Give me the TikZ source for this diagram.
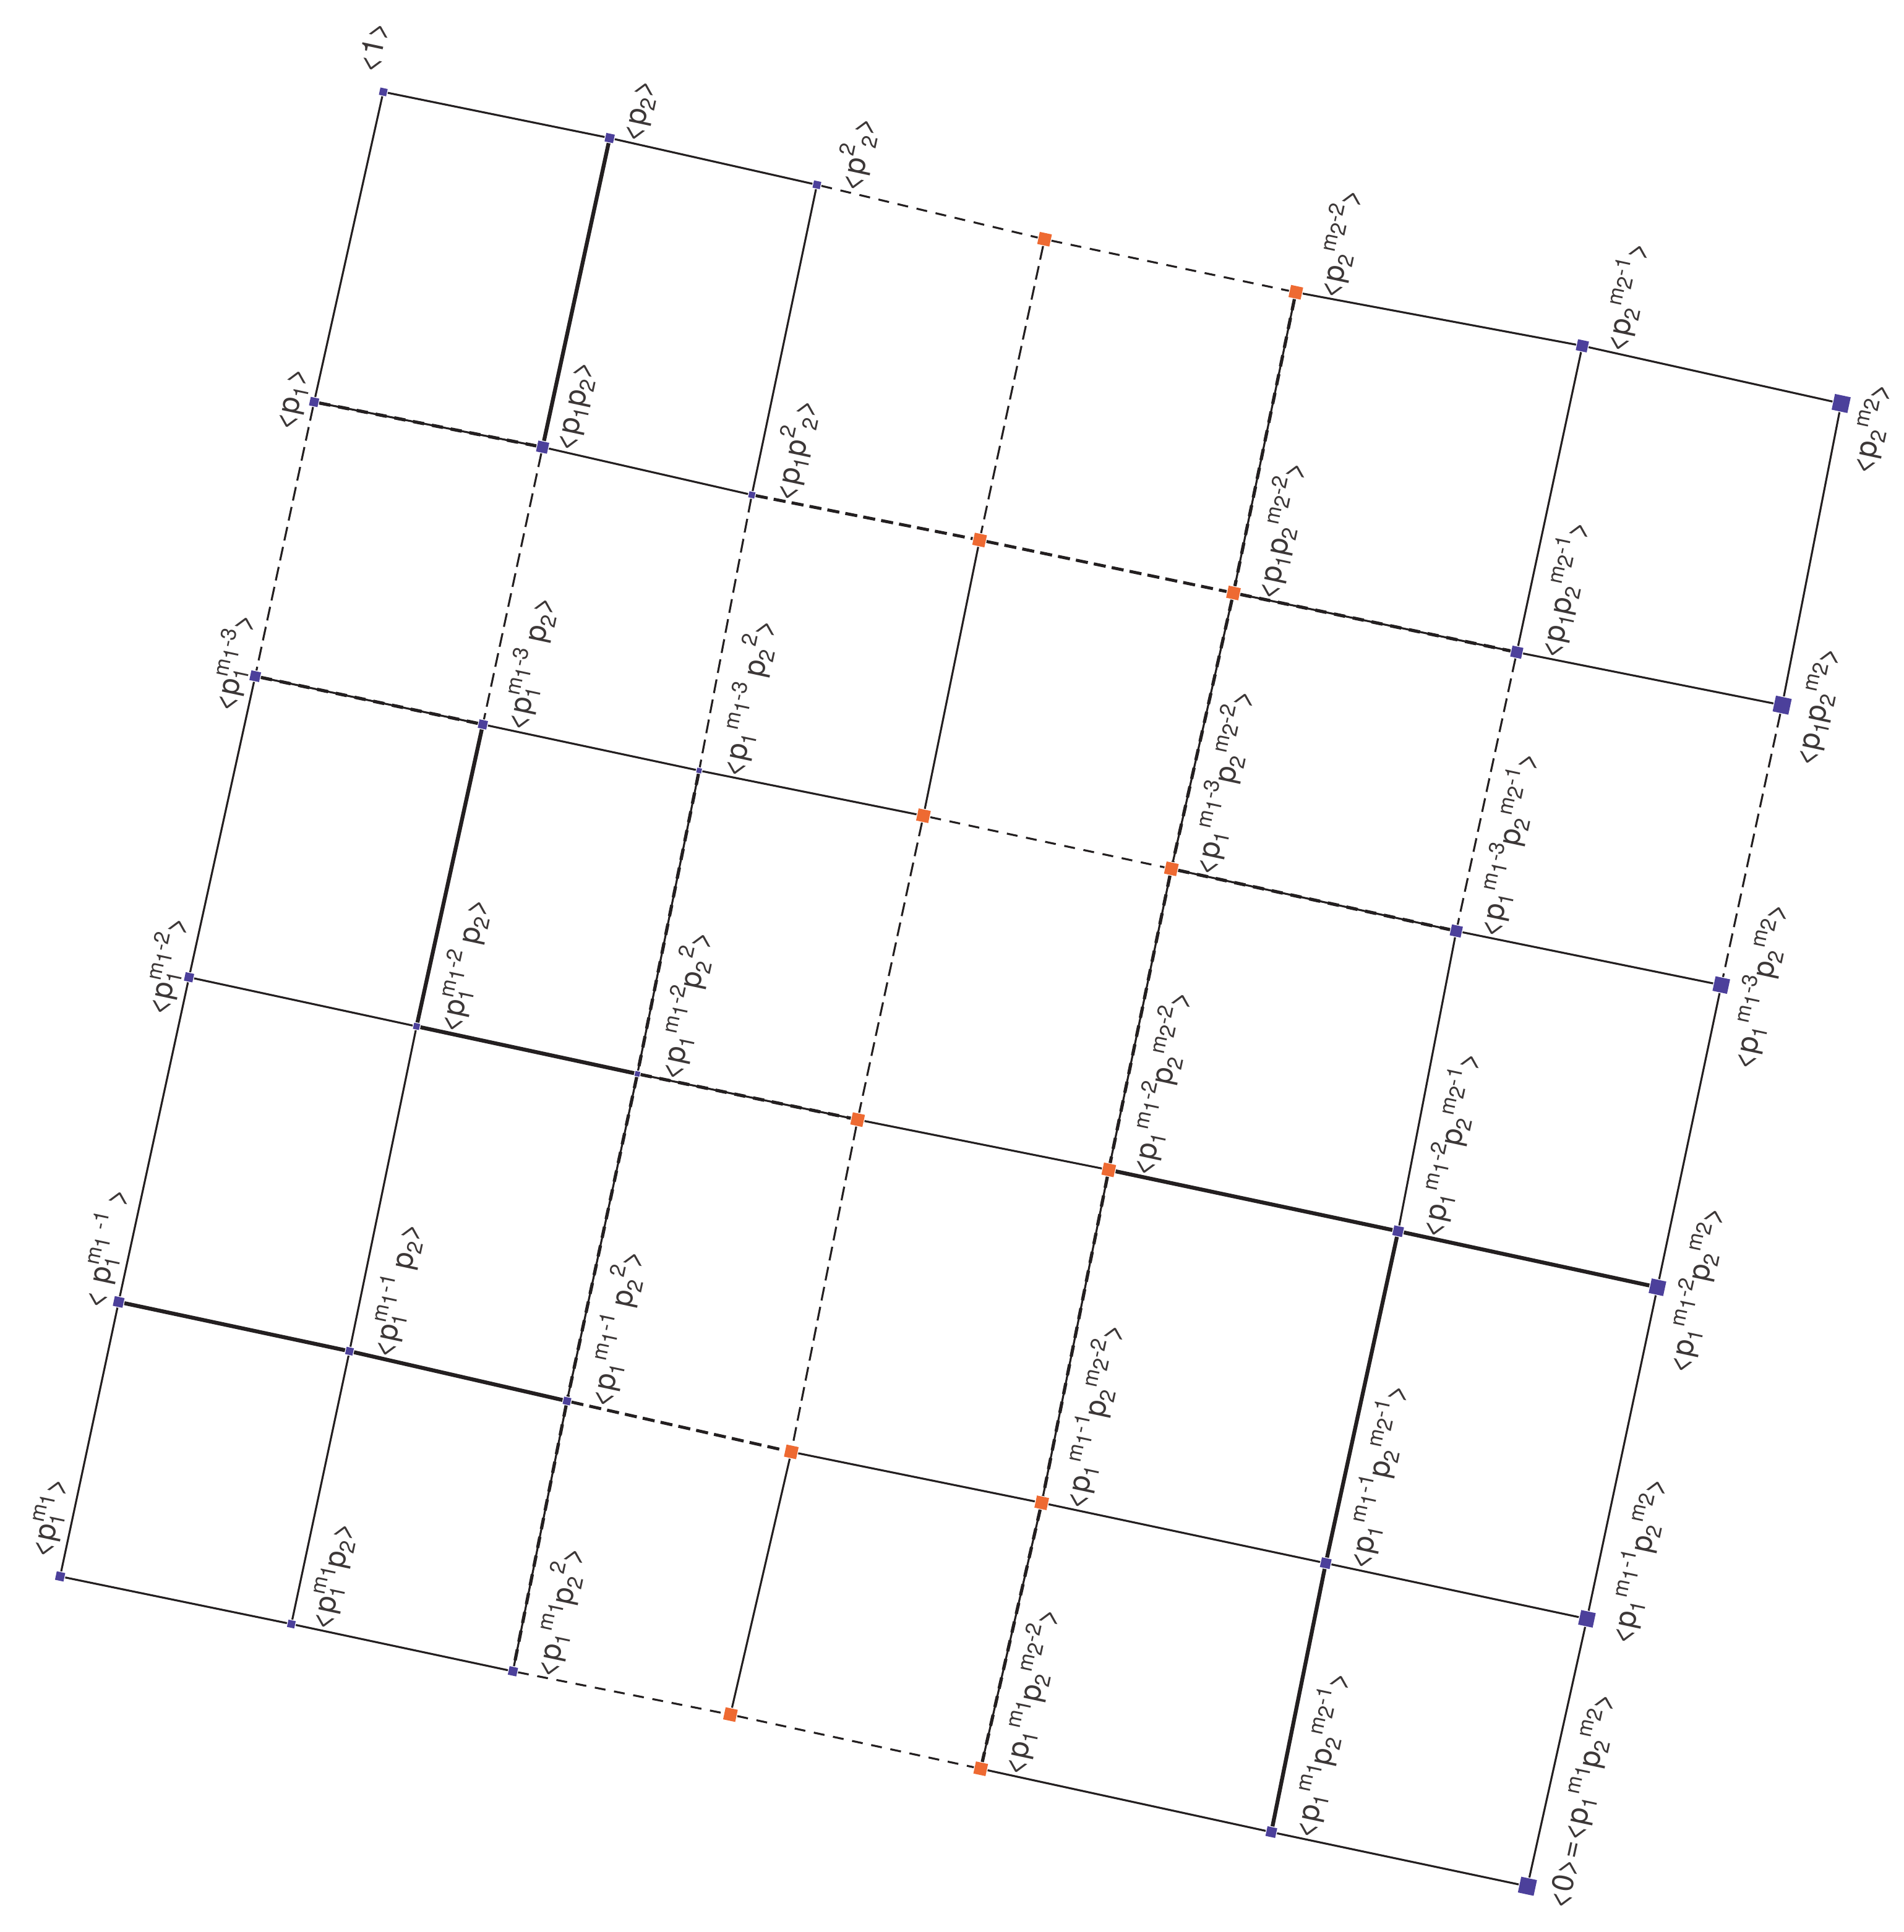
\documentclass[tikz,border=0pt]{standalone}
\usepackage{fontspec}
\setmainfont{TeX Gyre Heros}
\definecolor{vblue}{RGB}{76,64,155}
\definecolor{vorange}{RGB}{238,106,50}
\definecolor{ink}{RGB}{35,31,32}
\definecolor{txt}{RGB}{60,55,55}
% sub- and superscripts in text
\newcommand{\sbx}[1]{\raisebox{-0.22em}{\fontsize{4.9}{5}\selectfont #1}}
\newcommand{\spx}[1]{\raisebox{0.45em}{\fontsize{4.9}{5}\selectfont #1}}
\newcommand{\mlow}[1]{\raisebox{-0.3em}{#1}}
\newcommand{\stk}[2]{\rlap{\sbx{#1}}\spx{#2}}
\tikzset{
  vsq/.style={rectangle, inner sep=0pt, minimum size=#1, fill=vblue, rotate=-12.1},
  vsq/.default=0.7mm,
  osq/.style={rectangle, inner sep=0pt, minimum size=1mm, fill=vorange, rotate=-12.1},
  lbr/.style={rotate=77.9, anchor=north west, inner sep=0pt, text=txt, font=\fontsize{6.9}{7}\selectfont},
  lbl/.style={lbr, anchor=south west},
  ln/.style={draw=ink, line width=0.45pt},
  hv/.style={draw=ink, line width=0.9pt},
  dsh/.style={ln, dash pattern=on 2.5pt off 2pt},
  vdsh/.style={ln, dash pattern=on 3.2pt off 1.5pt},
  bdsh/.style={draw=ink, line width=0.7pt, dash pattern=on 2.8pt off 1.4pt},
  dsl/.style={ln, postaction={draw=ink, line width=0.75pt, dash pattern=on 2.6pt off 1.8pt}},
}
\begin{document}
\begin{tikzpicture}
\useasboundingbox (0,0) rectangle (15.385,-15.62);

% ROW 0
\node[vsq=0.6mm] (a00) at (3.098,-0.743) {};
\node[vsq] (a01) at (4.928,-1.116) {};
\node[vsq=0.6mm] (a02) at (6.603,-1.494) {};
\node[osq] (a03) at (8.443,-1.934) {};
\node[osq] (a04) at (10.474,-2.363) {};
\node[vsq=0.9mm] (a05) at (12.790,-2.796) {};
\node[vsq=1.3mm] (a06) at (14.882,-3.262) {};

% ROW 1
\node[vsq] (a10) at (2.539,-3.250) {};
\node[vsq=0.9mm] (a11) at (4.386,-3.615) {};
\node[vsq=0.5mm] (a12) at (6.077,-4.001) {};
\node[osq] (a13) at (7.918,-4.366) {};
\node[osq] (a14) at (9.970,-4.794) {};
\node[vsq=0.9mm] (a15) at (12.260,-5.273) {};
\node[vsq=1.3mm] (a16) at (14.405,-5.701) {};

% ROW 2
\node[vsq=0.8mm] (a20) at (2.063,-5.467) {};
\node[vsq] (a21) at (3.903,-5.857) {};
\node[vsq=0.4mm] (a22) at (5.651,-6.230) {};
\node[osq] (a23) at (7.464,-6.595) {};
\node[osq] (a24) at (9.468,-7.024) {};
\node[vsq=0.9mm] (a25) at (11.771,-7.527) {};
\node[vsq=1.2mm] (a26) at (13.913,-7.964) {};

% ROW 3
\node[vsq] (a30) at (1.528,-7.901) {};
\node[vsq=0.5mm] (a31) at (3.367,-8.298) {};
\node[vsq=0.4mm] (a32) at (5.152,-8.682) {};
\node[osq] (a33) at (6.932,-9.052) {};
\node[osq] (a34) at (8.962,-9.458) {};
\node[vsq=0.8mm] (a35) at (11.301,-9.954) {};
\node[vsq=1.2mm] (a36) at (13.397,-10.407) {};

% ROW 4
\node[vsq=0.8mm] (a40) at (0.959,-10.526) {};
\node[vsq=0.6mm] (a41) at (2.825,-10.924) {};
\node[vsq=0.6mm] (a42) at (4.583,-11.327) {};
\node[osq] (a43) at (6.396,-11.738) {};
\node[osq] (a44) at (8.420,-12.150) {};
\node[vsq=0.8mm] (a45) at (10.716,-12.638) {};
\node[vsq=1.2mm] (a46) at (12.827,-13.088) {};

% ROW 5
\node[vsq] (a50) at (0.486,-12.745) {};
\node[vsq=0.6mm] (a51) at (2.355,-13.130) {};
\node[vsq] (a52) at (4.146,-13.512) {};
\node[osq] (a53) at (5.904,-13.862) {};
\node[osq] (a54) at (7.927,-14.300) {};
\node[vsq=0.8mm] (a55) at (10.276,-14.812) {};
\node[vsq=1.3mm] (a56) at (12.346,-15.250) {};

% Row lines
\draw[ln] (a00) -- (a01) -- (a02);
\draw[dsh] (a02) -- (a03) -- (a04);
\draw[ln] (a04) -- (a05) -- (a06);
\draw[dsl] (a10) -- (a11);
\draw[ln] (a11) -- (a12);
\draw[bdsh] (a12) -- (a13) -- (a14);
\draw[dsl] (a14) -- (a15);
\draw[ln] (a15) -- (a16);
\draw[dsl] (a20) -- (a21);
\draw[ln] (a21) -- (a22) -- (a23);
\draw[dsh] (a23) -- (a24);
\draw[dsl] (a24) -- (a25);
\draw[ln] (a25) -- (a26);
\draw[ln] (a30) -- (a31);
\draw[hv] (a31) -- (a32);
\draw[dsl] (a32) -- (a33);
\draw[ln] (a33) -- (a34);
\draw[hv] (a34) -- (a35) -- (a36);
\draw[hv] (a40) -- (a41) -- (a42);
\draw[bdsh] (a42) -- (a43);
\draw[ln] (a43) -- (a44) -- (a45) -- (a46);
\draw[ln] (a50) -- (a51) -- (a52);
\draw[dsh] (a52) -- (a53) -- (a54);
\draw[ln] (a54) -- (a55) -- (a56);

% Column lines
\draw[ln] (a00) -- (a10);
\draw[vdsh] (a10) -- (a20);
\draw[ln] (a20) -- (a30) -- (a40) -- (a50);
\draw[hv] (a01) -- (a11);
\draw[vdsh] (a11) -- (a21);
\draw[hv] (a21) -- (a31);
\draw[ln] (a31) -- (a41) -- (a51);
\draw[ln] (a02) -- (a12);
\draw[vdsh] (a12) -- (a22);
\draw[dsl] (a22) -- (a32) -- (a42) -- (a52);
\draw[vdsh] (a03) -- (a13);
\draw[ln] (a13) -- (a23);
\draw[vdsh] (a23) -- (a33) -- (a43);
\draw[ln] (a43) -- (a53);
\draw[dsl] (a04) -- (a14) -- (a24) -- (a34) -- (a44) -- (a54);
\draw[ln] (a05) -- (a15);
\draw[vdsh] (a15) -- (a25);
\draw[ln] (a25) -- (a35);
\draw[hv] (a35) -- (a45) -- (a55);
\draw[ln] (a06) -- (a16);
\draw[vdsh] (a16) -- (a26);
\draw[ln] (a26) -- (a36) -- (a46) -- (a56);

% Labels, left column
\node[lbl] (t00) at ([shift={(-0.024,0.128)}]a00) {<1>};
\node[lbl] (t10) at ([shift={(-0.108,-0.263)}]a10) {<p\sbx{1}>};
\node[lbl] (t20) at ([shift={(-0.120,-0.322)}]a20) {<p\stk{1}{m\mlow{1}-3}>};
\node[lbl] (t30) at ([shift={(-0.124,-0.342)}]a30) {<p\stk{1}{m\mlow{1}-2}>};
\node[lbl] (t40) at ([shift={(-0.070,-0.087)}]a40) {< p\stk{1}{m\mlow{1} -1} >};
\node[lbl] (t50) at ([shift={(-0.026,0.118)}]a50) {<p\stk{1}{m\mlow{1}}>};

% Labels, second column
\node[lbr] (t01) at ([shift={(0.108,-0.023)}]a01) {<p\sbx{2}>};
\node[lbr] (t11) at ([shift={(0.108,-0.023)}]a11) {<p\sbx{1}p\sbx{2}>};
\node[lbr] (t21) at ([shift={(0.108,-0.023)}]a21) {<p\stk{1}{m\mlow{1}-3} p\sbx{2}>};
\node[lbr] (t31) at ([shift={(0.108,-0.023)}]a31) {<p\stk{1}{m\mlow{1}-2} p\sbx{2}>};
\node[lbr] (t41) at ([shift={(0.108,-0.023)}]a41) {<p\stk{1}{m\mlow{1}-1} p\sbx{2}>};
\node[lbr] (t51) at ([shift={(0.108,-0.023)}]a51) {<p\stk{1}{m\mlow{1}}p\sbx{2}>};

% Labels, third column
\node[lbr] (t02) at ([shift={(0.108,-0.023)}]a02) {<p\spx{2}\sbx{2}>};
\node[lbr] (t12) at ([shift={(0.108,-0.023)}]a12) {<p\sbx{1}p\spx{2}\sbx{2}>};
\node[lbr] (t22) at ([shift={(0.108,-0.023)}]a22) {<p\sbx{1}\spx{m\mlow{1}-3} p\sbx{2}\spx{2}>};
\node[lbr] (t32) at ([shift={(0.108,-0.023)}]a32) {<p\sbx{1}\spx{m\mlow{1}-2}p\sbx{2}\spx{2}>};
\node[lbr] (t42) at ([shift={(0.108,-0.023)}]a42) {<p\sbx{1}\spx{m\mlow{1}-1} p\sbx{2}\spx{2}>};
\node[lbr] (t52) at ([shift={(0.108,-0.023)}]a52) {<p\sbx{1}\spx{m\mlow{1}}p\sbx{2}\spx{2}>};

% Labels, m2-2 column
\node[lbr] (t04) at ([shift={(0.108,-0.023)}]a04) {<p\sbx{2}\spx{m\mlow{2}-2}>};
\node[lbr] (t14) at ([shift={(0.108,-0.023)}]a14) {<p\sbx{1}p\sbx{2}\spx{m\mlow{2}-2}>};
\node[lbr] (t24) at ([shift={(0.108,-0.023)}]a24) {<p\sbx{1}\spx{m\mlow{1}-3}p\sbx{2}\spx{m\mlow{2}-2}>};
\node[lbr] (t34) at ([shift={(0.108,-0.023)}]a34) {<p\sbx{1}\spx{m\mlow{1}-2}p\sbx{2}\spx{m\mlow{2}-2}>};
\node[lbr] (t44) at ([shift={(0.108,-0.023)}]a44) {<p\sbx{1}\spx{m\mlow{1}-1}p\sbx{2}\spx{m\mlow{2}-2}>};
\node[lbr] (t54) at ([shift={(0.108,-0.023)}]a54) {<p\sbx{1}\spx{m\mlow{1}}p\sbx{2}\spx{m\mlow{2}-2}>};

% Labels, m2-1 column
\node[lbr] (t05) at ([shift={(0.108,-0.023)}]a05) {<p\sbx{2}\spx{m\mlow{2}-1}>};
\node[lbr] (t15) at ([shift={(0.108,-0.023)}]a15) {<p\sbx{1}p\sbx{2}\spx{m\mlow{2}-1}>};
\node[lbr] (t25) at ([shift={(0.108,-0.023)}]a25) {<p\sbx{1}\spx{m\mlow{1}-3}p\sbx{2}\spx{m\mlow{2}-1}>};
\node[lbr] (t35) at ([shift={(0.108,-0.023)}]a35) {<p\sbx{1}\spx{m\mlow{1}-2}p\sbx{2}\spx{m\mlow{2}-1}>};
\node[lbr] (t45) at ([shift={(0.108,-0.023)}]a45) {<p\sbx{1}\spx{m\mlow{1}-1}p\sbx{2}\spx{m\mlow{2}-1}>};
\node[lbr] (t55) at ([shift={(0.108,-0.023)}]a55) {<p\sbx{1}\spx{m\mlow{1}}p\sbx{2}\spx{m\mlow{2}-1}>};

% Labels, right column
\node[lbr] (t06) at ([shift={(0.036,-0.550)}]a06) {<p\sbx{2}\spx{m\mlow{2}}>};
\node[lbr] (t16) at ([shift={(0.052,-0.471)}]a16) {<p\sbx{1}p\sbx{2}\spx{m\mlow{2}}>};
\node[lbr] (t26) at ([shift={(0.013,-0.657)}]a26) {<p\sbx{1}\spx{m\mlow{1}-3}p\sbx{2}\spx{m\mlow{2}}>};
\node[lbr] (t36) at ([shift={(0.010,-0.667)}]a36) {<p\sbx{1}\spx{m\mlow{1}-2}p\sbx{2}\spx{m\mlow{2}}>};
\node[lbr] (t46) at ([shift={(0.115,-0.178)}]a46) {<p\sbx{1}\spx{m\mlow{1}-1}p\sbx{2}\spx{m\mlow{2}}>};
\node[lbr] (t56) at ([shift={(0.120,-0.159)}]a56) {<0>=<p\sbx{1}\spx{m\mlow{1}}p\sbx{2}\spx{m\mlow{2}}>};

\end{tikzpicture}
\end{document}
